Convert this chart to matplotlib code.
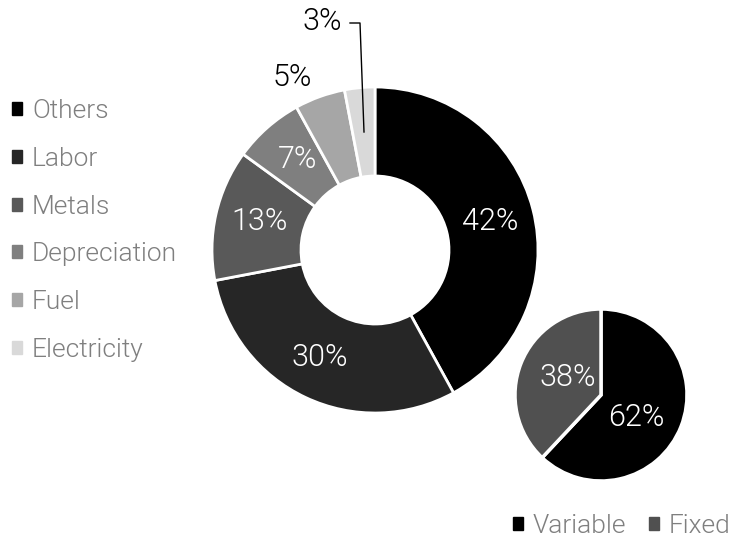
import matplotlib.pyplot as plt
from matplotlib.patches import Patch

plt.rcParams["font.family"] = ["Roboto", "DejaVu Sans"]

# cost breakdown (outer donut)
cost_names = ["Others", "Labor", "Metals", "Depreciation", "Fuel", "Electricity"]
cost_share = [42, 30, 13, 7, 5, 3]
cost_colors = ["#000000", "#262626", "#595959", "#7f7f7f", "#a6a6a6", "#d9d9d9"]

# variable vs fixed (small pie)
split_names = ["Variable", "Fixed"]
split_share = [62, 38]
split_colors = ["#000000", "#505050"]

W, H = 733, 542
WEIGHT = 300
PCT_SIZE = 22
fig = plt.figure(figsize=(W / 100, H / 100), dpi=100)
ax = fig.add_axes([0, 0, 1, 1])

# big donut, pixel units with y measured from the bottom
big_c = (375, H - 250)
big_r = 163
ax.pie(
    cost_share, colors=cost_colors, startangle=90, counterclock=False,
    center=big_c, radius=big_r, frame=True,
    wedgeprops=dict(width=big_r - 74, edgecolor="white", linewidth=2),
)

# small pie
small_c = (601, H - 395)
small_r = 86
ax.pie(
    split_share, colors=split_colors, startangle=90, counterclock=False,
    center=small_c, radius=small_r, frame=True,
    wedgeprops=dict(edgecolor="white", linewidth=2.5),
)
ax.set_xlim(0, W)
ax.set_ylim(0, H)
ax.set_aspect("equal")
ax.axis("off")

inside = {"Others": (490, 222), "Labor": (320, 358), "Metals": (260, 222),
          "Depreciation": (298, 160)}
for name, val in zip(cost_names, cost_share):
    if name in inside:
        x, y = inside[name]
        ax.text(x, H - y, f"{val}%", color="white", fontsize=PCT_SIZE,
                fontweight=WEIGHT, ha="center", va="center")

fuel_val = cost_share[cost_names.index("Fuel")]
ax.text(292, H - 78, f"{fuel_val}%", color="black", fontsize=PCT_SIZE,
        fontweight=WEIGHT, ha="center", va="center")
elec_val = cost_share[cost_names.index("Electricity")]
ax.text(322, H - 22, f"{elec_val}%", color="black", fontsize=PCT_SIZE,
        fontweight=WEIGHT, ha="center", va="center")
ax.plot([350, 360, 364], [H - 23, H - 23, H - 132],
        color="black", linewidth=1)

ax.text(636, H - 418, f"{split_share[0]}%", color="white", fontsize=PCT_SIZE,
        fontweight=WEIGHT, ha="center", va="center")
ax.text(568, H - 377, f"{split_share[1]}%", color="white", fontsize=PCT_SIZE,
        fontweight=WEIGHT, ha="center", va="center")

# legends
legend_kw = dict(frameon=False, handlelength=0.38, handleheight=0.38,
                 handletextpad=0.38, borderpad=0, borderaxespad=0,
                 labelcolor="#7f7f7f",
                 prop=dict(family="Roboto", weight=WEIGHT, size=19))
leg1 = ax.legend([Patch(color=c) for c in cost_colors], cost_names,
                 loc="upper left", bbox_to_anchor=(12 / W, 1 - 99 / H),
                 labelspacing=0.9, **legend_kw)
ax.add_artist(leg1)
ax.legend([Patch(color=c) for c in split_colors], split_names,
          loc="center left", bbox_to_anchor=(513 / W, 1 - 526 / H), ncol=2,
          columnspacing=0.85, **legend_kw)

fig.savefig("out.png", dpi=100)
